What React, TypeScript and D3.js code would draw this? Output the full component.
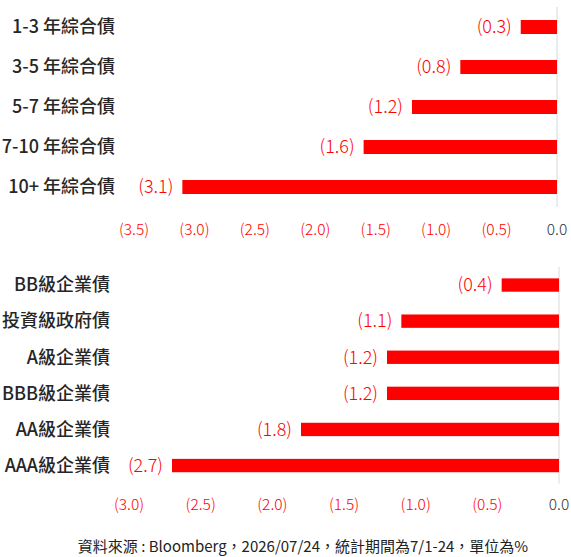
import React from 'react';
import * as d3 from 'd3';

// top panel: aggregate bonds by maturity
const maturityCats = ['1-3 年綜合債', '3-5 年綜合債', '5-7 年綜合債', '7-10 年綜合債', '10+ 年綜合債'];
const maturityVals = [-0.3, -0.8, -1.2, -1.6, -3.1];
const maturityTicks = [-3.5, -3.0, -2.5, -2.0, -1.5, -1.0, -0.5, 0];

// bottom panel: by credit rating
const ratingCats = ['BB級企業債', '投資級政府債', 'A級企業債', 'BBB級企業債', 'AA級企業債', 'AAA級企業債'];
const ratingVals = [-0.4, -1.1, -1.2, -1.2, -1.8, -2.7];
const ratingTicks = [-3.0, -2.5, -2.0, -1.5, -1.0, -0.5, 0];

const footnote = '資料來源 : Bloomberg，2026/07/24，統計期間為7/1-24，單位為%';

const W = 571;
const H = 557;
const RED = '#ff0000';
const FONT = '"Noto Sans CJK TC", "Noto Sans", sans-serif';

const fmt = (v: number) => (v === 0 ? '0.0' : `(${Math.abs(v).toFixed(1)})`);

interface PanelProps {
  cats: string[];
  vals: number[];
  ticks: number[];
  xRange: [number, number];
  yRange: [number, number];
  labelX: number;
  tickY: number;
  pad: number;
}

const Panel: React.FC<PanelProps> = ({ cats, vals, ticks, xRange, yRange, labelX, tickY, pad }) => {
  const x = d3.scaleLinear().domain([ticks[0], 0]).range(xRange);
  const y = d3.scaleBand<string>()
    .domain(cats)
    .range(yRange)
    .paddingInner(pad)
    .paddingOuter(pad / 2);
  const bw = y.bandwidth();

  return (
    <g>
      {/* zero line */}
      <line x1={x(0)} x2={x(0)} y1={yRange[0]} y2={yRange[1]} stroke="#d9d9d9" strokeWidth={1} />

      {cats.map((c, i) => {
        const v = vals[i];
        const cy = (y(c) ?? 0) + bw / 2;
        return (
          <g key={c}>
            <rect x={x(v)} y={y(c)} width={x(0) - x(v)} height={bw} fill={RED} />
            <text
              x={x(v) - 9}
              y={cy}
              dy="0.35em"
              textAnchor="end"
              fontSize={18}
              fontWeight={300}
              fill={RED}
            >
              {fmt(v)}
            </text>
            <text
              x={labelX}
              y={cy}
              dy="0.35em"
              textAnchor="end"
              fontSize={18}
              fontWeight={500}
              fill="#262626"
            >
              {c}
            </text>
          </g>
        );
      })}

      {ticks.map((t) => (
        <text
          key={t}
          x={x(t)}
          y={tickY}
          dy="0.35em"
          textAnchor="middle"
          fontSize={15.5}
          fontWeight={300}
          fill={t === 0 ? '#333' : RED}
        >
          {fmt(t)}
        </text>
      ))}
    </g>
  );
};

export default function App() {
  return (
    <svg
      width={W}
      height={H}
      style={{ position: 'absolute', left: 0, top: 0, background: '#fff' }}
      fontFamily={FONT}
    >
      <Panel
        cats={maturityCats}
        vals={maturityVals}
        ticks={maturityTicks}
        xRange={[134, 557]}
        yRange={[7, 207]}
        labelX={115}
        tickY={230}
        pad={0.65}
      />
      <Panel
        cats={ratingCats}
        vals={ratingVals}
        ticks={ratingTicks}
        xRange={[129, 559]}
        yRange={[267, 483.6]}
        labelX={110}
        tickY={505}
        pad={0.63}
      />
      <text x={303} y={547} dy="0.35em" textAnchor="middle" fontSize={15} fill="#222">
        {footnote}
      </text>
    </svg>
  );
}
